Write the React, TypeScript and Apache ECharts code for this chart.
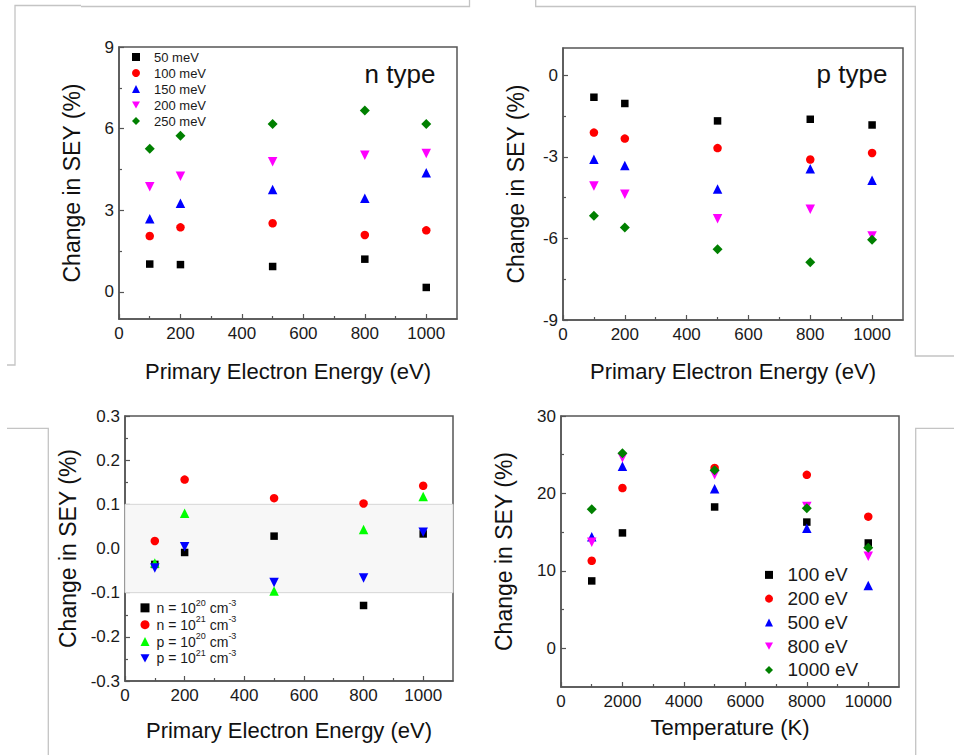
import React, { useEffect, useRef } from "react";
import * as echarts from "echarts";

// ---------- data ----------
const energies = [100, 200, 500, 800, 1000];
const nLabels = ["50 meV", "100 meV", "150 meV", "200 meV", "250 meV"];
const nType50 = [1.02, 1.0, 0.93, 1.2, 0.16];
const nType100 = [2.05, 2.37, 2.52, 2.09, 2.26];
const nType150 = [2.69, 3.26, 3.76, 3.44, 4.38];
const nType200 = [3.86, 4.25, 4.78, 5.02, 5.08];
const nType250 = [5.26, 5.74, 6.17, 6.67, 6.17];

const pType50 = [-0.81, -1.04, -1.68, -1.62, -1.83];
const pType100 = [-2.11, -2.33, -2.68, -3.1, -2.86];
const pType150 = [-3.09, -3.32, -4.18, -3.44, -3.86];
const pType200 = [-4.07, -4.38, -5.28, -4.93, -5.91];
const pType250 = [-5.17, -5.6, -6.4, -6.88, -6.05];

const dopLabels = ["n = 10^20 cm^-3", "n = 10^21 cm^-3", "p = 10^20 cm^-3", "p = 10^21 cm^-3"];
const dopRich = [
  "{b|n = 10}{s|20}{b| cm}{s|-3}",
  "{b|n = 10}{s|21}{b| cm}{s|-3}",
  "{b|p = 10}{s|20}{b| cm}{s|-3}",
  "{b|p = 10}{s|21}{b| cm}{s|-3}",
];
const dopN20 = [-0.036, -0.009, 0.028, -0.129, 0.033];
const dopN21 = [0.017, 0.156, 0.114, 0.102, 0.142];
const dopP20 = [-0.033, 0.08, -0.096, 0.043, 0.118];
const dopP21 = [-0.044, 0.004, -0.077, -0.067, 0.037];

const temps = [1000, 2000, 5000, 8000, 10000];
const tLabels = ["100 eV", "200 eV", "500 eV", "800 eV", "1000 eV"];
const t100 = [8.7, 14.9, 18.25, 16.3, 13.6];
const t200 = [11.3, 20.7, 23.3, 22.4, 17.0];
const t500 = [14.4, 23.5, 20.6, 15.5, 8.1];
const t800 = [13.7, 24.6, 22.4, 18.3, 11.9];
const t1000 = [17.96, 25.2, 23.0, 18.1, 13.0];

// ticks
const energyTicks = [0, 200, 400, 600, 800, 1000];
const energyMinor = [100, 300, 500, 700, 900];
const tempTicks = [0, 2000, 4000, 6000, 8000, 10000];
const tempMinor = [1000, 3000, 5000, 7000, 9000];
const nTicks = [0, 3, 6, 9];
const nMinor = [1.5, 4.5, 7.5];
const pTicks = [-9, -6, -3, 0];
const pMinor = [-7.5, -4.5, -1.5];
const dTicks = [-0.3, -0.2, -0.1, 0, 0.1, 0.2, 0.3];
const dMinor = [-0.25, -0.15, -0.05, 0.05, 0.15, 0.25];
const tyTicks = [0, 10, 20, 30];
const tyMinor = [5, 15, 25];

// ---------- styling ----------
const FONT = "'Liberation Sans', Arial, Helvetica, sans-serif";
const FRAME = "#555555";
const LIGHT = "#c4c4c4";
const DOWN = "path://M0,0L10,0L5,9Z";
const symbols = ["rect", "circle", "triangle", DOWN, "diamond"];
const sizes = [7.5, 8.5, 9.5, 9.5, 10];
const colors = ["#000000", "#ff0000", "#0000ff", "#ff00ff", "#008000"];
const dopSymbols = ["rect", "circle", "triangle", DOWN];
const dopColors = ["#000000", "#ff0000", "#00ff00", "#0000ff"];
const dopSizes = [7.5, 8.5, 9.5, 9.5];

const grids = [
  { left: 119, top: 47, width: 338, height: 272 },
  { left: 563, top: 48, width: 340, height: 272 },
  { left: 125, top: 416, width: 328, height: 265 },
  { left: 561, top: 416, width: 338, height: 271 },
];

function axisPair(
  kind: "x" | "y",
  gridIndex: number,
  min: number,
  max: number,
  major: number[],
  minor: number[],
  name: string,
  nameGap: number,
  fmt?: (v: number) => string
) {
  const main: any = {
    type: "value",
    gridIndex,
    min,
    max,
    position: kind === "x" ? "bottom" : "left",
    axisLine: { show: true, onZero: false, lineStyle: { color: FRAME, width: 1.5 } },
    axisTick: { show: true, inside: true, length: 5, customValues: major, lineStyle: { color: FRAME, width: 1.2 } },
    axisLabel: {
      show: true,
      customValues: major,
      fontSize: 17,
      fontFamily: FONT,
      color: "#1a1a1a",
      margin: kind === "x" ? 6 : 5,
      formatter: fmt ? (v: number) => fmt(v) : (v: number) => String(v),
    },
    splitLine: { show: false },
    name,
    nameLocation: "middle",
    nameGap,
    nameTextStyle: { fontSize: kind === "x" ? 22 : 23, fontFamily: FONT, color: "#111111" },
  };
  const sub: any = {
    type: "value",
    gridIndex,
    min,
    max,
    position: kind === "x" ? "bottom" : "left",
    axisLine: { show: false, onZero: false },
    axisTick: { show: true, inside: true, length: 3, customValues: minor, lineStyle: { color: FRAME, width: 1.2 } },
    axisLabel: { show: false },
    splitLine: { show: false },
  };
  return [main, sub];
}

function scatter(name: string, xs: number[], ys: number[], g: number, symbol: string, size: number, color: string): any {
  return {
    type: "scatter",
    name,
    xAxisIndex: g * 2,
    yAxisIndex: g * 2,
    symbol,
    symbolSize: size,
    itemStyle: { color, opacity: 1 },
    z: 3,
    data: xs.map((x, i) => [x, ys[i]]),
  };
}

export default function App() {
  const ref = useRef<HTMLDivElement>(null);
  useEffect(() => {
    if (!ref.current) return;
    const chart = echarts.init(ref.current, undefined, { renderer: "svg" });

    const xAxes = [
      ...axisPair("x", 0, 0, 1100, energyTicks, energyMinor, "Primary Electron Energy (eV)", 41),
      ...axisPair("x", 1, 0, 1100, energyTicks, energyMinor, "Primary Electron Energy (eV)", 40),
      ...axisPair("x", 2, 0, 1100, energyTicks, energyMinor, "Primary Electron Energy (eV)", 38),
      ...axisPair("x", 3, 0, 11000, tempTicks, tempMinor, "Temperature (K)", 29),
    ];
    const yAxes = [
      ...axisPair("y", 0, -1, 9, nTicks, nMinor, "Change in SEY (%)", 36),
      ...axisPair("y", 1, -9, 1, pTicks, pMinor, "Change in SEY (%)", 36),
      ...axisPair("y", 2, -0.3, 0.3, dTicks, dMinor, "Change in SEY (%)", 46, (v) => v.toFixed(1)),
      ...axisPair("y", 3, -5, 30, tyTicks, tyMinor, "Change in SEY (%)", 46),
    ];

    const nSets = [nType50, nType100, nType150, nType200, nType250];
    const pSets = [pType50, pType100, pType150, pType200, pType250];
    const dSets = [dopN20, dopN21, dopP20, dopP21];
    const tSets = [t100, t200, t500, t800, t1000];

    const series: any[] = [];
    nSets.forEach((d, i) => series.push(scatter(nLabels[i], energies, d, 0, symbols[i], sizes[i], colors[i])));
    pSets.forEach((d, i) => series.push(scatter(nLabels[i], energies, d, 1, symbols[i], sizes[i], colors[i])));
    series.push({
      type: "scatter",
      name: "band",
      xAxisIndex: 4,
      yAxisIndex: 4,
      data: [],
      z: 1,
      silent: true,
      markArea: {
        silent: true,
        itemStyle: { color: "#f7f7f7", borderColor: "#d6d6d6", borderWidth: 1 },
        data: [[{ yAxis: -0.1 }, { yAxis: 0.1 }]],
      },
    });
    dSets.forEach((d, i) => series.push(scatter(dopLabels[i], energies, d, 2, dopSymbols[i], dopSizes[i], dopColors[i])));
    tSets.forEach((d, i) => series.push(scatter(tLabels[i], temps, d, 3, symbols[i], sizes[i], colors[i])));

    const option: any = {
      animation: false,
      backgroundColor: "#ffffff",
      textStyle: { fontFamily: FONT },
      grid: grids.map((g) => ({ ...g, show: true, borderColor: FRAME, borderWidth: 1.5, backgroundColor: "transparent" })),
      xAxis: xAxes,
      yAxis: yAxes,
      legend: [
        {
          data: nLabels,
          orient: "vertical",
          left: 132,
          top: 49,
          padding: 0,
          itemGap: 0,
          itemWidth: 8,
          itemHeight: 8,
          selectedMode: false,
          textStyle: { fontSize: 13, fontFamily: FONT, color: "#1a1a1a", lineHeight: 16, padding: [0, 0, 0, 9] },
        },
        {
          data: dopLabels,
          orient: "vertical",
          left: 140.5,
          top: 598,
          padding: 0,
          itemGap: 0,
          itemWidth: 9,
          itemHeight: 9,
          selectedMode: false,
          formatter: (name: string) => dopRich[dopLabels.indexOf(name)],
          textStyle: {
            fontFamily: FONT,
            color: "#1a1a1a",
            padding: [0, 0, 0, 2],
            rich: {
              b: { fontSize: 14, fontFamily: FONT, color: "#1a1a1a", lineHeight: 19.7 },
              s: { fontSize: 9, fontFamily: FONT, color: "#1a1a1a", lineHeight: 11, verticalAlign: "top" },
            },
          },
        },
        {
          data: tLabels,
          orient: "vertical",
          left: 765,
          top: 563,
          padding: 0,
          itemGap: 0,
          itemWidth: 8,
          itemHeight: 8,
          selectedMode: false,
          textStyle: { fontSize: 19, fontFamily: FONT, color: "#1a1a1a", lineHeight: 23.75, padding: [0, 0, 0, 9.5] },
        },
      ],
      graphic: [
        {
          type: "text",
          x: 400,
          y: 74,
          style: { text: "n type", font: `26px ${FONT}`, fill: "#111111", textAlign: "center", textVerticalAlign: "middle" },
        },
        {
          type: "text",
          x: 852,
          y: 74,
          style: { text: "p type", font: `26px ${FONT}`, fill: "#111111", textAlign: "center", textVerticalAlign: "middle" },
        },
        {
          type: "polyline",
          shape: { points: [[7, 365], [15, 365], [15, 5.5], [81, 5.5]] },
          style: { stroke: LIGHT, lineWidth: 1.3, fill: "none" },
        },
        {
          type: "polyline",
          shape: { points: [[81, 6.5], [469.5, 6.5], [469.5, 0]] },
          style: { stroke: LIGHT, lineWidth: 1.3, fill: "none" },
        },
        {
          type: "polyline",
          shape: { points: [[535.7, 0], [535.7, 6.5], [915.3, 6.5], [915.3, 356], [954, 356]] },
          style: { stroke: LIGHT, lineWidth: 1.3, fill: "none" },
        },
        {
          type: "polyline",
          shape: { points: [[7, 428.3], [48.3, 428.3], [48.3, 755]] },
          style: { stroke: LIGHT, lineWidth: 1.3, fill: "none" },
        },
        {
          type: "polyline",
          shape: { points: [[954, 428.3], [915.7, 428.3], [915.7, 755]] },
          style: { stroke: LIGHT, lineWidth: 1.3, fill: "none" },
        },
      ],
      series,
    };
    chart.setOption(option);
    return () => chart.dispose();
  }, []);

  return (
    <div
      ref={ref}
      style={{ position: "fixed", left: 0, top: 0, width: 954, height: 755, background: "#ffffff" }}
    />
  );
}
